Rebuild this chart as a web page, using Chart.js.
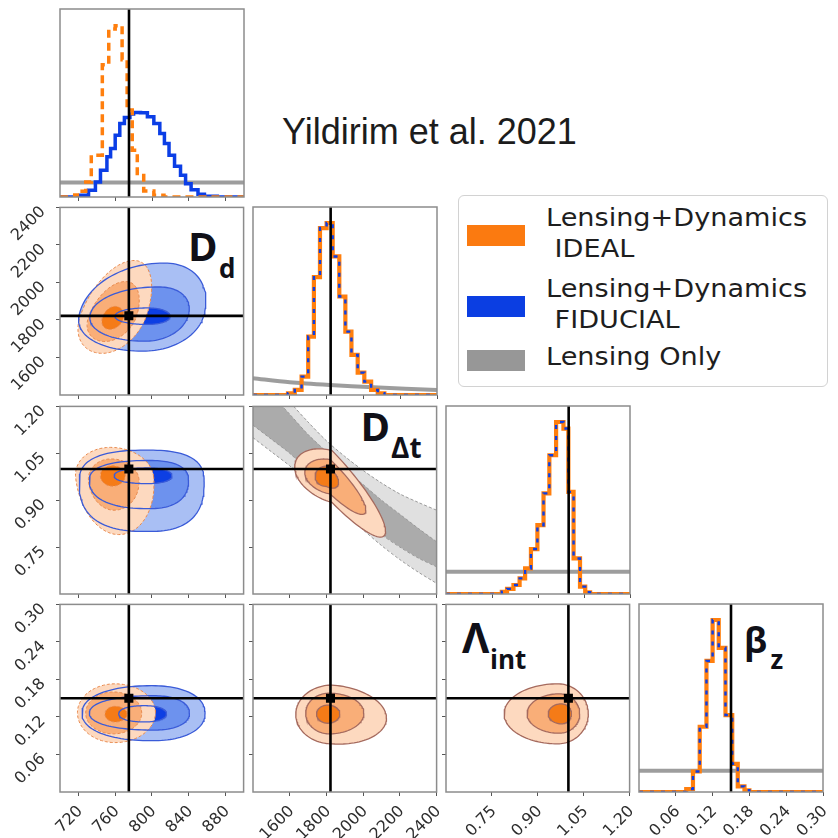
<!DOCTYPE html>
<html>
<head>
<meta charset="utf-8">
<script src="https://cdn.jsdelivr.net/npm/chart.js@4.4.1/dist/chart.umd.min.js"></script>
<style>
  html, body { margin: 0; padding: 0; background: #fff; }
  #fig { position: relative; width: 838px; height: 838px; overflow: hidden; background: #fff; }
  #fig canvas { position: absolute; }
  .t { position: absolute; white-space: pre; }
  .title { font-family: 'Liberation Sans', Arial, sans-serif; font-size: 36px; line-height: 36px; color: #1c1c1c; }
  .leg { font-family: 'DejaVu Sans', sans-serif; font-size: 25px; line-height: 25px; color: #1e1e1e; transform: scaleX(1.085); transform-origin: 0 0; }
  .big { font-family: 'Open Sans', 'Noto Sans', sans-serif; font-weight: 700; color: #101018; }
  #legbox { position: absolute; left: 458px; top: 195px; width: 370px; height: 192px; box-sizing: border-box;
            border: 1.5px solid #d2d2d2; border-radius: 6px; background: #fff; }
  .patch { position: absolute; left: 467px; width: 58px; height: 21px; }
</style>
</head>
<body>
<div id="fig">
  <div class="t title" style="left:282px; top:114px;">Yildirim et al. 2021</div>

  <div id="legbox"></div>
  <div class="patch" style="top:225px; background:#fb7a10;"></div>
  <div class="patch" style="top:296px; background:#0b3ee2;"></div>
  <div class="patch" style="top:350px; background:#979797;"></div>
  <div class="t leg" style="left:546px; top:205px;">Lensing+Dynamics</div>
  <div class="t leg" style="left:546px; top:236px;"> IDEAL</div>
  <div class="t leg" style="left:546px; top:275.5px;">Lensing+Dynamics</div>
  <div class="t leg" style="left:546px; top:307px;"> FIDUCIAL</div>
  <div class="t leg" style="left:546px; top:344px;">Lensing Only</div>

  <div class="t big" style="left:188px; top:226px; font-size:40px; line-height:40px;">D</div>
  <div class="t big" style="left:219px; top:255px; font-size:26px; line-height:26px;">d</div>
  <div class="t big" style="left:360.5px; top:406px; font-size:40px; line-height:40px;">D</div>
  <div class="t big" style="left:391px; top:433px; font-size:28px; line-height:28px;">Δt</div>
  <div class="t big" style="left:462px; top:616px; font-size:42px; line-height:42px;">Λ</div>
  <div class="t big" style="left:490px; top:646px; font-size:26px; line-height:26px;">int</div>
  <div class="t big" style="left:744px; top:622px; font-size:35px; line-height:35px;">β</div>
  <div class="t big" style="left:770.5px; top:646px; font-size:26px; line-height:26px;">z</div>
</div>

<script>
// ---------- parameter axes ----------
const ddRange  = [700, 900];
const ddtRange = [1400, 2400];
const lamRange = [0.6, 1.2];
const bzRange  = [0, 0.30];

const ddTicks  = [720, 760, 800, 840, 880];
const ddtTicks = [1600, 1800, 2000, 2200, 2400];
const lamTicks = [0.75, 0.90, 1.05, 1.20];
const bzTicks  = [0.06, 0.12, 0.18, 0.24, 0.30];

// true input values (D_d, D_dt, lambda_int, beta_z)
const truths = [775, 1822, 1.00, 0.15];

// ---------- 1D marginals (bin edges, normalised heights) ----------
const ddIdealEdges   = [716, 722, 728, 734, 746, 753, 760, 767.5, 773, 778.5, 784, 791, 802, 813];
const ddIdealHeights = [0.010, 0.030, 0.080, 0.222, 0.703, 0.893, 0.911, 0.730, 0.463, 0.249, 0.125, 0.032, 0.009];
const ddFidEdges     = [722, 731, 738.5, 744, 751, 755, 760, 765, 770, 776, 780, 787.5, 795, 802, 808.5, 813.5,
                        818.5, 824.5, 831, 836.5, 842.5, 850, 857, 871];
const ddFidHeights   = [0.009, 0.036, 0.080, 0.142, 0.214, 0.258, 0.329, 0.391, 0.423, 0.441, 0.450, 0.448,
                        0.427, 0.391, 0.338, 0.285, 0.222, 0.164, 0.116, 0.071, 0.039, 0.014, 0.004];
const ddLensOnly     = 0.077;

const ddtEdges   = [1590, 1627, 1664, 1700, 1731, 1764, 1800, 1833, 1869, 1902, 1935, 1969, 2005, 2042, 2078, 2114];
const ddtHeights = [0.009, 0.027, 0.098, 0.311, 0.627, 0.888, 0.915, 0.737, 0.524, 0.337, 0.213, 0.119, 0.071, 0.027, 0.009];
const ddtLensX   = [1400, 1600, 1818, 2055, 2400];
const ddtLensY   = [0.089, 0.0675, 0.053, 0.041, 0.027];

const lamEdges   = [0.782, 0.799, 0.820, 0.840, 0.858, 0.877, 0.898, 0.918, 0.937, 0.959, 0.983, 0.999, 1.016, 1.037, 1.054, 1.070];
const lamHeights = [0.012, 0.027, 0.048, 0.083, 0.136, 0.239, 0.366, 0.535, 0.738, 0.915, 0.880, 0.543, 0.189, 0.039, 0.009];
const lamLensOnly = 0.119;

const bzEdges   = [0.077, 0.088, 0.099, 0.110, 0.120, 0.130, 0.141, 0.152, 0.161, 0.172, 0.180];
const bzHeights = [0.016, 0.109, 0.347, 0.697, 0.915, 0.767, 0.409, 0.150, 0.030, 0.009];
const bzLensOnly = 0.113;

// ---------- 2D credible regions ----------
// each level: [cx, cy, left, right, down, up, shearX, shearY(left), shearY(right), roundness]
const ddDdtIdeal = [[760, 1820, 38, 34, 198, 297, 0.07, 0, 0, 2],
                    [758, 1815, 27, 25, 130, 190, 0.07, 0, 0, 2],
                    [757, 1810, 11, 12, 60, 62, 0.05, 0, 0, 2]];
const ddDdtFid   = [[800, 1830, 79, 57, 196, 273, 0.05, 0, 0, 2.1],
                    [800, 1830, 67, 40, 143, 146, 0.05, 0, 0, 2.1],
                    [795, 1820, 35, 25, 44, 44, 0, 0, 0, 2.1]];

const ddLamIdeal = [[758, 0.975, 41, 44, 0.185, 0.094, -32, 0, 0, 2],
                    [757, 0.965, 26, 29, 0.097, 0.067, -20, 0, 0, 2],
                    [757, 0.980, 13, 14, 0.035, 0.030, 0, 0, 0, 2]];
const ddLamFid   = [[795, 0.960, 74, 62, 0.160, 0.100, 0, 0, 0, 2.6],
                    [797, 0.965, 65, 43, 0.092, 0.062, 0, 0, 0, 2.4],
                    [795, 0.978, 36, 27, 0.025, 0.025, 0, 0, 0, 2.2]];

const ddBzIdeal = [[760, 0.127, 41, 44, 0.048, 0.046, 0, 0, 0, 2],
                   [758, 0.126, 30, 31, 0.033, 0.034, 0, 0, 0, 2],
                   [760, 0.125, 11, 13, 0.013, 0.012, 0, 0, 0, 2]];
const ddBzFid   = [[800, 0.126, 76, 58, 0.044, 0.044, 0, 0, 0, 2.2],
                   [802, 0.126, 70, 39, 0.027, 0.028, 0, 0, 0, 2.2],
                   [792, 0.125, 28, 24, 0.013, 0.013, 0, 0, 0, 2.2]];

const ddtLamLevels = [[1830, 0.976, 203, 292, 0.083, 0.083, 0, -0.00015, -0.0006, 2],
                      [1820, 0.975, 138, 195, 0.055, 0.055, 0, -0.0001, -0.00055, 2],
                      [1800, 0.977, 62, 66, 0.033, 0.032, 0, 0, -0.0003, 2]];
const ddtBzLevels  = [[1830, 0.124, 197, 297, 0.047, 0.047, 0, 0, -0.00002, 2],
                      [1815, 0.126, 128, 189, 0.033, 0.032, 0, 0, 0, 2],
                      [1808, 0.125, 62, 65, 0.015, 0.014, 0, 0, 0, 2]];
const lamBzLevels  = [[0.965, 0.125, 0.175, 0.100, 0.048, 0.048, 0, 0, 0, 2],
                      [0.970, 0.125, 0.105, 0.067, 0.031, 0.032, 0, 0, 0, 2],
                      [0.978, 0.125, 0.044, 0.032, 0.016, 0.016, 0, 0, 0, 2]];

// lensing-only band in the D_dt - lambda_int plane
const lensBandDdt    = [1400, 1500, 1600, 1700, 1800, 1900, 2000, 2100, 2200, 2300, 2400];
const lensOuterUpper = [1.40, 1.29, 1.215, 1.15, 1.09, 1.04, 0.995, 0.955, 0.92, 0.893, 0.868];
const lensOuterLower = [1.10, 1.055, 1.01, 0.96, 0.91, 0.855, 0.805, 0.755, 0.71, 0.67, 0.634];
const lensInnerUpper = [1.32, 1.24, 1.175, 1.11, 1.055, 1.00, 0.95, 0.90, 0.855, 0.81, 0.767];
const lensInnerLower = [1.14, 1.095, 1.05, 0.995, 0.94, 0.89, 0.84, 0.79, 0.75, 0.715, 0.687];

// ---------- styling ----------
const ORANGE = '#ff7f0e', BLUE = '#0b3ee6', GRAY = 'rgba(140,140,140,0.85)';
const ORANGE_FILLS = ['#fdd9bf', '#f9ae78', '#f57b17'];
const BLUE_FILLS   = ['#a9bff4', '#6d92ee', '#0d3fe3'];
const ORANGE_EDGE = '#e8894d', BLUE_EDGE = '#3a5bd8', MIX_EDGE = '#a56a5e';

const PW = 184, PH = 188, ML = 56, MT = 6, MR = 6, MB = 46;
const COL_X = [60, 253, 446, 639];
const ROW_Y = [9, 207, 406, 604];
const TICK_FONT = { family: 'DejaVu Sans', size: 16 };

const DIMS = [
  { range: ddRange,  ticks: ddTicks,  digits: 0 },
  { range: ddtRange, ticks: ddtTicks, digits: 0 },
  { range: lamRange, ticks: lamTicks, digits: 2 },
  { range: bzRange,  ticks: bzTicks,  digits: 2 },
];
const HIST_RANGE = [0, 1];

const fmt = (v, d) => d ? Number(v).toFixed(d) : String(Math.round(v));

function xAxis(p, labels) {
  return {
    type: 'linear', position: 'bottom', min: p.range[0], max: p.range[1],
    afterBuildTicks: s => { s.ticks = p.ticks.map(v => ({ value: v })); },
    afterFit: s => { s.height = MB; s.paddingLeft = 0; s.paddingRight = 0; },
    border: { display: false },
    grid: { display: true, drawOnChartArea: false, drawTicks: true, tickLength: 4, tickColor: '#555', tickWidth: 1 },
    ticks: { display: labels, autoSkip: false, minRotation: 45, maxRotation: 45, padding: 6, labelOffset: 2,
             color: '#2e2e2e', font: TICK_FONT, callback: v => fmt(v, p.digits) }
  };
}
function yAxis(p, labels) {
  return {
    type: 'linear', position: 'left', min: p.range[0], max: p.range[1],
    afterBuildTicks: s => { s.ticks = p.ticks.map(v => ({ value: v })); },
    afterFit: s => { s.width = ML; s.paddingTop = 0; s.paddingBottom = 0; },
    border: { display: false },
    grid: { display: true, drawOnChartArea: false, drawTicks: true, tickLength: 4, tickColor: '#555', tickWidth: 1 },
    ticks: { display: labels, autoSkip: false, minRotation: 45, maxRotation: 45, padding: 13, labelOffset: 2,
             color: '#2e2e2e', font: TICK_FONT, callback: v => fmt(v, p.digits) }
  };
}
function yHist() {
  return {
    type: 'linear', position: 'left', min: HIST_RANGE[0], max: HIST_RANGE[1],
    afterFit: s => { s.width = ML; s.paddingTop = 0; s.paddingBottom = 0; },
    border: { display: false }, grid: { display: false }, ticks: { display: false }
  };
}

const framePlugin = {
  id: 'panelFrame',
  afterDatasetsDraw(chart) {
    const { ctx, chartArea: a } = chart;
    ctx.save();
    ctx.strokeStyle = '#8c8c8c';
    ctx.lineWidth = 1.5;
    ctx.strokeRect(a.left, a.top, a.right - a.left, a.bottom - a.top);
    ctx.restore();
  }
};

// closed outline of one credible level, in data units
function outline(s, n = 120) {
  const [cx, cy, xl, xr, yd, yu, shx, shyl, shyr, p] = s;
  const e = 2 / p, pts = [];
  for (let i = 0; i <= n; i++) {
    const t = (i / n) * 2 * Math.PI;
    const c = Math.cos(t), sn = Math.sin(t);
    const dx = Math.sign(c) * Math.pow(Math.abs(c), e) * (c < 0 ? xl : xr);
    const dy = Math.sign(sn) * Math.pow(Math.abs(sn), e) * (sn < 0 ? yd : yu);
    pts.push({ x: cx + dx + shx * dy, y: cy + dy + (dx < 0 ? shyl : shyr) * dx });
  }
  return pts;
}

function region(s, fill, edge, width, dash) {
  return { data: outline(s), showLine: true, fill: fill ? 'shape' : false, backgroundColor: fill || 'transparent',
           borderColor: edge || 'transparent', borderWidth: edge ? width : 0, borderDash: dash || [], pointRadius: 0 };
}

function stepPoints(edges, heights, range) {
  const pts = [{ x: range[0], y: 0 }];
  heights.forEach((h, i) => pts.push({ x: edges[i], y: h }));
  pts.push({ x: edges[edges.length - 1], y: 0 });
  pts.push({ x: range[1], y: 0 });
  return pts;
}
function histLine(pts, color, width, dash) {
  return { data: pts, showLine: true, stepped: true, fill: false, borderColor: color, borderWidth: width,
           borderDash: dash || [], pointRadius: 0, borderCapStyle: 'butt' };
}
function plainLine(xs, ys, color, width, tension) {
  return { data: xs.map((x, i) => ({ x, y: ys[i] })), showLine: true, fill: false, borderColor: color,
           borderWidth: width, pointRadius: 0, tension: tension || 0 };
}
function vLine(v, yr) { return plainLine([v, v], yr, '#000', 2.6); }
function hLine(v, xr) { return plainLine(xr, [v, v], '#000', 2.6); }
function marker(x, y) {
  return { data: [{ x, y }], showLine: false, pointStyle: 'rect', pointRadius: 6.4,
           backgroundColor: '#000', borderColor: '#000', borderWidth: 0 };
}

const fig = document.getElementById('fig');
function makePanel(row, col, datasets, hist) {
  const cv = document.createElement('canvas');
  cv.width = ML + PW + MR; cv.height = MT + PH + MB;
  cv.style.left = (COL_X[col] - ML) + 'px';
  cv.style.top = (ROW_Y[row] - MT) + 'px';
  cv.style.width = cv.width + 'px'; cv.style.height = cv.height + 'px';
  fig.appendChild(cv);
  datasets.forEach((d, i) => { d.order = -i; });
  new Chart(cv, {
    type: 'scatter',
    data: { datasets },
    options: {
      responsive: false, animation: false, devicePixelRatio: 1, events: [],
      layout: { padding: { left: 0, top: MT, right: MR, bottom: 0 } },
      plugins: { legend: { display: false }, tooltip: { enabled: false } },
      scales: { x: xAxis(DIMS[col], row === 3), y: hist ? yHist() : yAxis(DIMS[row], col === 0) }
    },
    plugins: [framePlugin]
  });
}

// ---------- diagonal: marginal histograms ----------
makePanel(0, 0, [
  plainLine(ddRange, [ddLensOnly, ddLensOnly], GRAY, 4),
  histLine(stepPoints(ddFidEdges, ddFidHeights, ddRange), BLUE, 3.5),
  histLine(stepPoints(ddIdealEdges, ddIdealHeights, ddRange), ORANGE, 3.5, [8, 5]),
  vLine(truths[0], HIST_RANGE)
], true);

makePanel(1, 1, [
  plainLine(ddtLensX, ddtLensY, GRAY, 4, 0.3),
  histLine(stepPoints(ddtEdges, ddtHeights, ddtRange), ORANGE, 4.2),
  histLine(stepPoints(ddtEdges, ddtHeights, ddtRange), BLUE, 2.4, [4, 7]),
  vLine(truths[1], HIST_RANGE)
], true);

makePanel(2, 2, [
  plainLine(lamRange, [lamLensOnly, lamLensOnly], GRAY, 4),
  histLine(stepPoints(lamEdges, lamHeights, lamRange), ORANGE, 4.2),
  histLine(stepPoints(lamEdges, lamHeights, lamRange), BLUE, 2.4, [4, 7]),
  vLine(truths[2], HIST_RANGE)
], true);

makePanel(3, 3, [
  plainLine(bzRange, [bzLensOnly, bzLensOnly], GRAY, 4),
  histLine(stepPoints(bzEdges, bzHeights, bzRange), ORANGE, 4.2),
  histLine(stepPoints(bzEdges, bzHeights, bzRange), BLUE, 2.4, [4, 7]),
  vLine(truths[3], HIST_RANGE)
], true);

// ---------- first column: IDEAL vs FIDUCIAL ----------
function pairedSets(ideal, fid, xT, yT, xr, yr) {
  const sets = [];
  fid.forEach((s, k) => sets.push(region(s, BLUE_FILLS[k])));
  ideal.forEach((s, k) => sets.push(region(s, ORANGE_FILLS[k])));
  ideal.forEach(s => sets.push(region(s, null, ORANGE_EDGE, 1, [3, 2])));
  fid.forEach(s => sets.push(region(s, null, BLUE_EDGE, 1.3)));
  sets.push(vLine(xT, yr), hLine(yT, xr), marker(xT, yT));
  return sets;
}
makePanel(1, 0, pairedSets(ddDdtIdeal, ddDdtFid, truths[0], truths[1], ddRange, ddtRange));
makePanel(2, 0, pairedSets(ddLamIdeal, ddLamFid, truths[0], truths[2], ddRange, lamRange));
makePanel(3, 0, pairedSets(ddBzIdeal, ddBzFid, truths[0], truths[3], ddRange, bzRange));

// ---------- remaining off-diagonal panels ----------
function singleSets(levels, xT, yT, xr, yr, extra) {
  const sets = extra ? extra.slice() : [];
  levels.forEach((s, k) => sets.push(region(s, ORANGE_FILLS[k], MIX_EDGE, 1.3)));
  sets.push(vLine(xT, yr), hLine(yT, xr), marker(xT, yT));
  return sets;
}
function band(upper, lower, fill) {
  const pts = lensBandDdt.map((x, i) => ({ x, y: upper[i] }))
    .concat(lensBandDdt.map((x, i) => ({ x, y: lower[i] })).reverse());
  pts.push(pts[0]);
  return { data: pts, showLine: true, fill: 'shape', backgroundColor: fill, borderWidth: 0, pointRadius: 0 };
}
const bandEdge = ys => ({ ...plainLine(lensBandDdt, ys, '#9a9a9a', 1, 0.3), borderDash: [3, 2] });
const lensBand = [
  band(lensOuterUpper, lensOuterLower, '#e0e0e0'),
  band(lensInnerUpper, lensInnerLower, '#ababab'),
  bandEdge(lensOuterUpper), bandEdge(lensOuterLower),
  bandEdge(lensInnerUpper), bandEdge(lensInnerLower)
];
makePanel(2, 1, singleSets(ddtLamLevels, truths[1], truths[2], ddtRange, lamRange, lensBand));
makePanel(3, 1, singleSets(ddtBzLevels, truths[1], truths[3], ddtRange, bzRange));
makePanel(3, 2, singleSets(lamBzLevels, truths[2], truths[3], lamRange, bzRange));
</script>
</body>
</html>
